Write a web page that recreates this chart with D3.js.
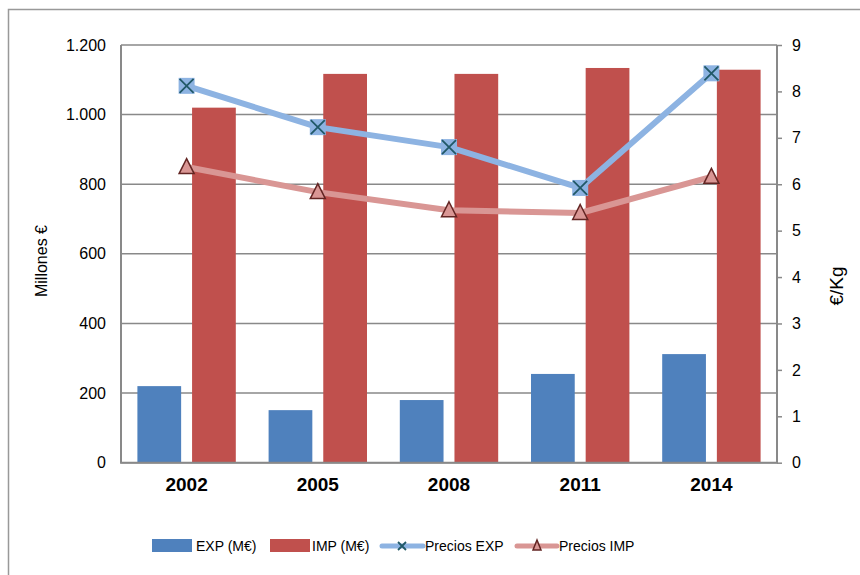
<!DOCTYPE html>
<html><head><meta charset="utf-8">
<script src="https://cdn.jsdelivr.net/npm/d3@7"></script>
<style>body{margin:0;background:#fff}svg{display:block;font-family:"Liberation Sans",Arial,sans-serif}</style>
</head><body><svg id="c" width="860" height="575"></svg>
<script>
const years = ["2002","2005","2008","2011","2014"];
const expM = [220, 151, 180, 255, 312];
const impM = [1020, 1117, 1117, 1134, 1129];
const preciosExp = [8.12, 7.23, 6.80, 5.92, 8.39];
const preciosImp = [6.37, 5.83, 5.44, 5.38, 6.16];
const leftTicks = [0,200,400,600,800,1000,1200];
const rightTicks = [0,1,2,3,4,5,6,7,8,9];

const svg = d3.select("#c");
const L=121, R=777, T=45, B=462.7;
const gridC="#898989";

// outer border (left & top only visible)
svg.append("path").attr("d",`M8.5,575 L8.5,9.5 L860,9.5`).attr("fill","none").attr("stroke","#999").attr("stroke-width",1.5);

const x0 = d3.scaleBand().domain(years).range([L,R]).padding(0);
const x1 = d3.scaleBand().domain(["EXP","IMP"]).range([0,x0.bandwidth()]).paddingInner(0.2).paddingOuter(0.3);
const yL = d3.scaleLinear().domain([0,1200]).range([B,T]);
const yR = d3.scaleLinear().domain([0,9]).range([B,T]);
const fmt = d3.formatLocale({decimal:",",thousands:".",grouping:[3]}).format(",d");

// gridlines
svg.append("g").selectAll("line").data(leftTicks).join("line")
  .attr("x1",L).attr("x2",R).attr("y1",d=>yL(d)).attr("y2",d=>yL(d))
  .attr("stroke",gridC).attr("stroke-width",1.5);

// bars
const g = svg.append("g").selectAll("g").data(years).join("g").attr("transform",d=>`translate(${x0(d)},0)`);
g.append("rect").attr("x",x1("EXP")).attr("width",x1.bandwidth())
  .attr("y",(d,i)=>yL(expM[i])).attr("height",(d,i)=>B-yL(expM[i])).attr("fill","#4F81BD");
g.append("rect").attr("x",x1("IMP")).attr("width",x1.bandwidth())
  .attr("y",(d,i)=>yL(impM[i])).attr("height",(d,i)=>B-yL(impM[i])).attr("fill","#C0504D");

// plot border
svg.append("path").attr("d",`M${L},${T} L${L},${B} L${R},${B} L${R},${T}`).attr("fill","none").attr("stroke",gridC).attr("stroke-width",2);

// left axis labels
svg.append("g").attr("transform",`translate(${L},0)`)
  .call(d3.axisLeft(yL).tickValues(leftTicks).tickSize(0).tickPadding(15).tickFormat(fmt))
  .call(a=>a.select(".domain").remove())
  .call(a=>a.selectAll("text").attr("font-size",16).attr("fill","#000").attr("font-family","Liberation Sans, Arial, sans-serif"));

// right axis
svg.append("g").attr("transform",`translate(${R},0)`)
  .call(d3.axisRight(yR).tickValues(rightTicks).tickSize(5).tickPadding(10).tickFormat(d3.format("d")))
  .call(a=>a.select(".domain").remove())
  .call(a=>a.selectAll("line").attr("stroke",gridC).attr("stroke-width",1.5))
  .call(a=>a.selectAll("text").attr("font-size",16).attr("fill","#000").attr("font-family","Liberation Sans, Arial, sans-serif"));

// x axis labels
svg.append("g").attr("transform",`translate(0,${B})`)
  .call(d3.axisBottom(x0).tickSize(0).tickPadding(15))
  .call(a=>a.select(".domain").remove())
  .call(a=>a.selectAll("text").attr("font-size",19).attr("font-weight","bold").attr("fill","#000").attr("font-family","Liberation Sans, Arial, sans-serif"));

// axis titles
svg.append("text").attr("transform","translate(47,261) rotate(-90)").attr("text-anchor","middle").attr("font-size",16).text("Millones €");
svg.append("text").attr("transform","translate(843,286) rotate(-90)").attr("text-anchor","middle").attr("font-size",19).text("€/Kg");

const cx = d=>x0(d)+x0.bandwidth()/2;
const line = d3.line().x(d=>cx(d[0])).y(d=>yR(d[1]));

svg.append("path").datum(years.map((y,i)=>[y,preciosImp[i]])).attr("d",line)
  .attr("fill","none").attr("stroke","#D99694").attr("stroke-width",6).attr("stroke-linejoin","round");
svg.append("path").datum(years.map((y,i)=>[y,preciosExp[i]])).attr("d",line)
  .attr("fill","none").attr("stroke","#8DB3E2").attr("stroke-width",6).attr("stroke-linejoin","round");

function xMarker(sel, size){
  const h=size/2;
  sel.append("rect").attr("x",-h).attr("y",-h).attr("width",size).attr("height",size).attr("fill","#8DB3E2");
  sel.append("path").attr("d",`M${-h+1},${-h+1}L${h-1},${h-1}M${h-1},${-h+1}L${-h+1},${h-1}`).attr("stroke","#215968").attr("stroke-width",1.8);
}
function triMarker(sel, size){
  const h=size/2;
  sel.append("path").attr("d",`M0,${-h-1}L${h},${h-1}L${-h},${h-1}Z`).attr("fill","#D99694").attr("stroke","#632523").attr("stroke-width",1.5);
}
svg.append("g").selectAll("g").data(years).join("g")
  .attr("transform",(d,i)=>`translate(${cx(d)},${yR(preciosImp[i])})`).each(function(){triMarker(d3.select(this),15);});
svg.append("g").selectAll("g").data(years).join("g")
  .attr("transform",(d,i)=>`translate(${cx(d)},${yR(preciosExp[i])})`).each(function(){xMarker(d3.select(this),16);});

// legend
const leg = svg.append("g").attr("font-size",14);
const ly=546;
leg.append("rect").attr("x",152).attr("y",539).attr("width",40).attr("height",13).attr("fill","#4F81BD");
leg.append("text").attr("x",196).attr("y",ly).attr("dy","0.35em").text("EXP (M€)");
leg.append("rect").attr("x",270).attr("y",539).attr("width",40).attr("height",13).attr("fill","#C0504D");
leg.append("text").attr("x",312).attr("y",ly).attr("dy","0.35em").text("IMP (M€)");
leg.append("line").attr("x1",382).attr("x2",423).attr("y1",ly).attr("y2",ly).attr("stroke","#8DB3E2").attr("stroke-width",5).attr("stroke-linecap","round");
leg.append("path").attr("d",`M398,${ly-4}L406,${ly+4}M406,${ly-4}L398,${ly+4}`).attr("stroke","#215968").attr("stroke-width",1.8);
leg.append("text").attr("x",425).attr("y",ly).attr("dy","0.35em").text("Precios EXP");
leg.append("line").attr("x1",517).attr("x2",557).attr("y1",ly).attr("y2",ly).attr("stroke","#D99694").attr("stroke-width",5).attr("stroke-linecap","round");
leg.append("path").attr("d",`M537,${ly-6}L541,${ly+4}L533,${ly+4}Z`).attr("fill","#D99694").attr("stroke","#632523").attr("stroke-width",1.5);
leg.append("text").attr("x",559).attr("y",ly).attr("dy","0.35em").text("Precios IMP");
</script></body></html>
